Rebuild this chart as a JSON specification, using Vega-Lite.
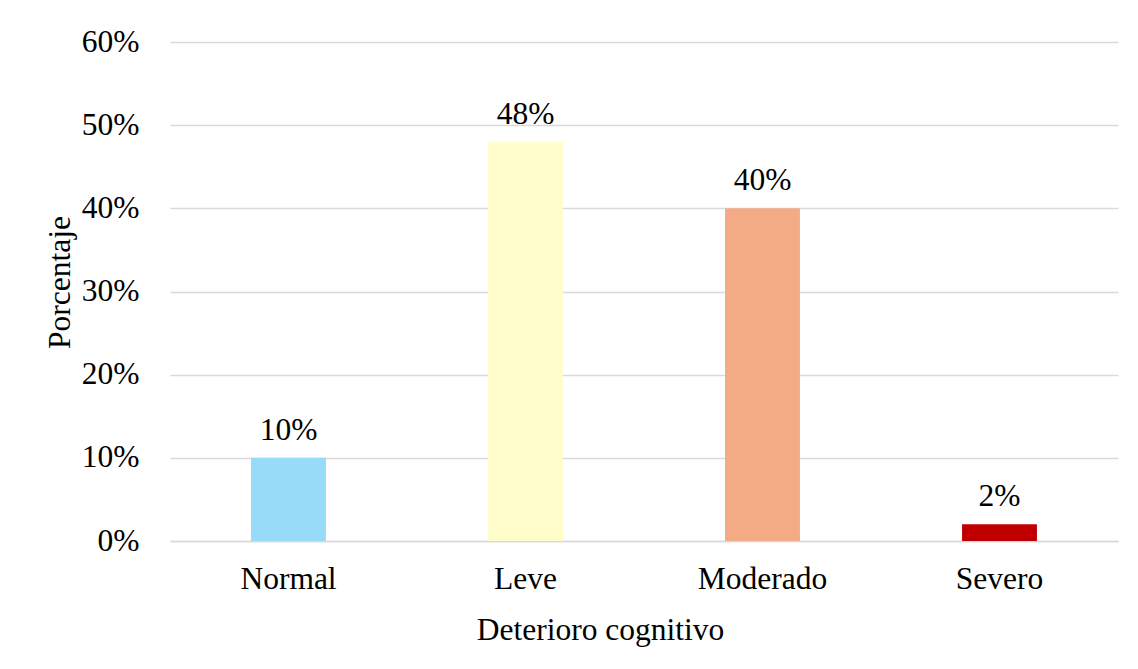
{
  "$schema": "https://vega.github.io/schema/vega-lite/v6.json",
  "width": 948,
  "height": 499,
  "autosize": {"type": "none"},
  "padding": {"left": 170, "top": 42, "right": 20, "bottom": 128},
  "background": "white",
  "config": {
    "view": {"stroke": null},
    "font": "Liberation Serif",
    "axis": {"labelFont": "Liberation Serif", "titleFont": "Liberation Serif", "labelColor": "#000000", "titleColor": "#000000", "titleFontWeight": "normal"}
  },
  "data": {
    "values": [
      {"categoria": "Normal", "porcentaje": 0.10},
      {"categoria": "Leve", "porcentaje": 0.48},
      {"categoria": "Moderado", "porcentaje": 0.40},
      {"categoria": "Severo", "porcentaje": 0.02}
    ]
  },
  "encoding": {
    "x": {
      "field": "categoria",
      "type": "nominal",
      "sort": null,
      "scale": {"paddingInner": 0.684, "paddingOuter": 0.342},
      "axis": {
        "title": "Deterioro cognitivo",
        "labelAngle": 0,
        "labelFontSize": 31.5,
        "titleFontSize": 31.5,
        "ticks": false,
        "tickSize": 0,
        "domain": true,
        "domainColor": "#D9D9D9",
        "domainWidth": 1.5,
        "labelBaseline": "alphabetic",
        "labelPadding": 47,
        "titleX": 430,
        "titleY": 98,
        "titleBaseline": "alphabetic",
        "titleAlign": "center"
      }
    },
    "y": {
      "field": "porcentaje",
      "type": "quantitative",
      "scale": {"domain": [0, 0.6]},
      "axis": {
        "title": "Porcentaje",
        "format": ".0%",
        "values": [0, 0.1, 0.2, 0.3, 0.4, 0.5, 0.6],
        "labelFontSize": 31.5,
        "titleFontSize": 31.5,
        "ticks": false,
        "tickSize": 0,
        "domain": false,
        "labelPadding": 31,
        "titleX": -101,
        "titleY": 240,
        "titleAngle": -90,
        "titleBaseline": "alphabetic",
        "titleAlign": "center",
        "grid": true,
        "gridColor": "#D9D9D9",
        "gridWidth": 1.5
      }
    }
  },
  "layer": [
    {
      "mark": {"type": "bar"},
      "encoding": {
        "color": {
          "field": "categoria",
          "type": "nominal",
          "sort": null,
          "scale": {"domain": ["Normal", "Leve", "Moderado", "Severo"], "range": ["#97DBF8", "#FFFDCB", "#F2AB85", "#C00000"]},
          "legend": null
        }
      }
    },
    {
      "mark": {"type": "text", "baseline": "alphabetic", "dy": -18, "fontSize": 31.5, "font": "Liberation Serif", "color": "#000000"},
      "encoding": {
        "text": {"field": "porcentaje", "type": "quantitative", "format": ".0%"}
      }
    }
  ]
}
